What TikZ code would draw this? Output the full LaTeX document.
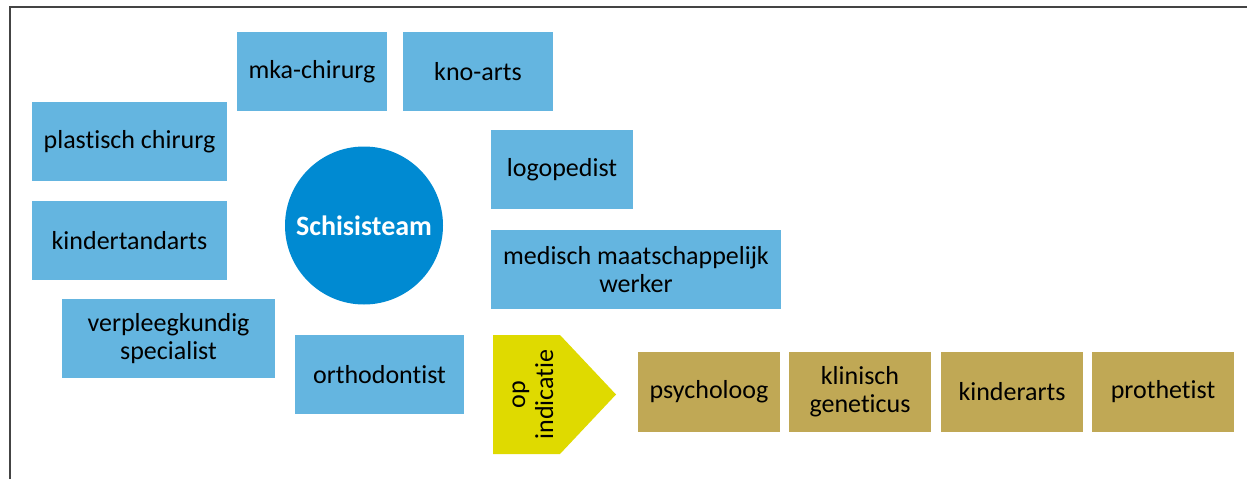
\documentclass[tikz,border=0pt]{standalone}
\usepackage{fontspec}
\setmainfont{Carlito}[Ligatures={NoCommon}]
\definecolor{lblue}{HTML}{64B5E0}
\definecolor{dblue}{HTML}{008AD2}
\definecolor{olive}{HTML}{C0A855}
\definecolor{yel}{HTML}{DFDA00}
\definecolor{frame}{HTML}{444444}
\begin{document}
\begin{tikzpicture}[x=1pt,y=-1pt,
  box/.style={rectangle, inner sep=0pt, align=center, text=black,
    font=\fontsize{26}{28}\selectfont},
  bluebox/.style={box, fill=lblue},
  olivebox/.style={box, fill=olive, minimum width=142pt, minimum height=80pt},
]
\useasboundingbox (0,0) rectangle (1247,479);
\draw[frame, line width=1.5pt] (10,479) -- (10,7) -- (1247,7);

\node[bluebox, minimum width=150pt, minimum height=79pt] (mka) at (312,71.5) {mka-chirurg};
\node[bluebox, minimum width=150pt, minimum height=79pt] (kno) at (478,71.5) {kno-arts};
\node[bluebox, minimum width=195pt, minimum height=79pt] (plast) at (129.5,141.5) {plastisch chirurg};
\node[bluebox, minimum width=195pt, minimum height=79pt] (kind) at (129.5,240.5) {kindertandarts};
\node[bluebox, minimum width=213pt, minimum height=79pt] (verpl) at (168.5,338.5) {verpleegkundig\\specialist};
\node[bluebox, minimum width=169pt, minimum height=79pt] (ortho) at (379.5,374.5) {orthodontist};
\node[bluebox, minimum width=142pt, minimum height=79pt] (logo) at (562,169.5) {logopedist};
\node[bluebox, minimum width=290pt, minimum height=79pt] (mmw) at (636,269.5) {medisch maatschappelijk\\werker};

\node[circle, fill=dblue, minimum size=158pt, inner sep=0pt, text=white,
  font=\fontsize{28}{30}\selectfont\bfseries] (team) at (364,225.5) {Schisisteam};

\coordinate (p1) at (493,335);
\coordinate (p2) at (560,335);
\coordinate (p3) at (616,394.5);
\coordinate (p4) at (560,454);
\coordinate (p5) at (493,454);
\fill[yel] (p1) -- (p2) -- (p3) -- (p4) -- (p5) -- cycle;
\node[box, rotate=90] (opind) at (533,394.5) {op\\indicatie};

\node[olivebox] (psy) at (709,392) {psycholoog};
\node[olivebox] (klin) at (860,392) {klinisch\\geneticus};
\node[olivebox] (kinder) at (1012,392) {kinderarts};
\node[olivebox] (proth) at (1163,392) {prothetist};
\end{tikzpicture}
\end{document}
